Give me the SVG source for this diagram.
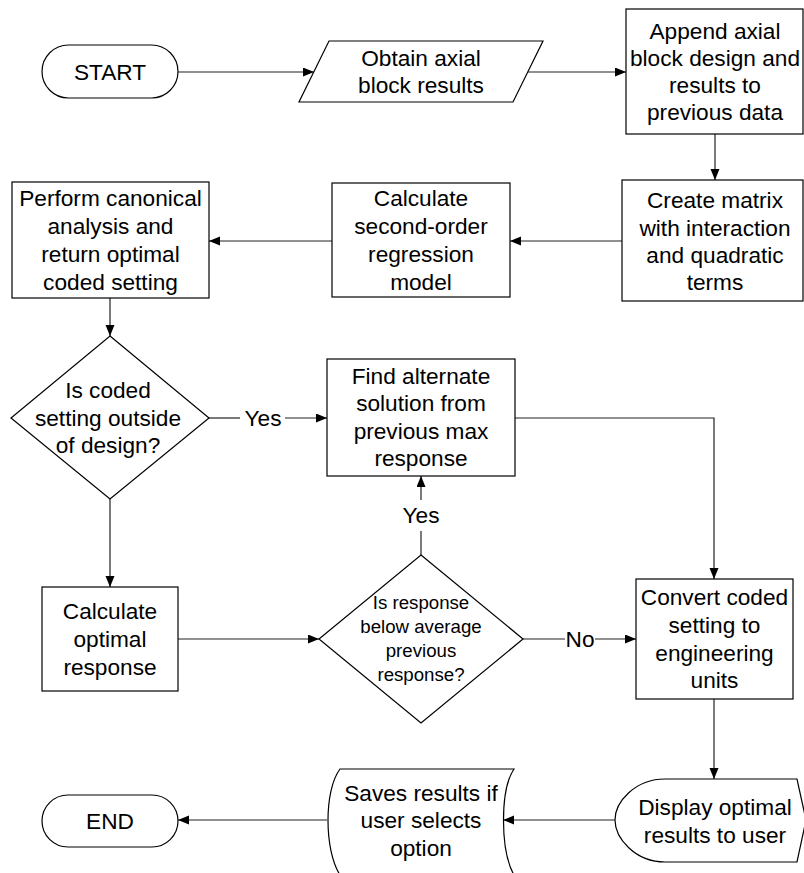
<svg xmlns="http://www.w3.org/2000/svg" width="804" height="873" viewBox="0 0 804 873">
<style>
.s{fill:#fff;stroke:#000;stroke-width:1.2}
.t{font-family:"Liberation Sans",Arial,sans-serif;font-size:22.67px;fill:#000;text-anchor:middle}
.sm{font-size:18.67px}
.c{fill:none;stroke:#222;stroke-width:1.2}
</style>
<defs>
<marker id="a" markerUnits="userSpaceOnUse" markerWidth="12" markerHeight="10" refX="11" refY="4.5" orient="auto">
<path d="M0,0 L11,4.5 L0,9 z" fill="#000"/>
</marker>
</defs>
<rect width="804" height="873" fill="#fff"/>
<g id="connectors">
<path class="c" d="M178,72 H314" marker-end="url(#a)"/>
<path class="c" d="M528,72 H626" marker-end="url(#a)"/>
<path class="c" d="M715,134 V180" marker-end="url(#a)"/>
<path class="c" d="M622,241 H510" marker-end="url(#a)"/>
<path class="c" d="M332,241 H209" marker-end="url(#a)"/>
<path class="c" d="M110,298 V336" marker-end="url(#a)"/>
<path class="c" d="M209,418 H240"/>
<path class="c" d="M285,418 H327" marker-end="url(#a)"/>
<text class="t" x="263" y="426">Yes</text>
<path class="c" d="M515,418 H714 V579" marker-end="url(#a)"/>
<path class="c" d="M110,499 V587" marker-end="url(#a)"/>
<path class="c" d="M178,639 H319" marker-end="url(#a)"/>
<path class="c" d="M421,555 V531"/>
<path class="c" d="M421,500 V476" marker-end="url(#a)"/>
<text class="t" x="421" y="523">Yes</text>
<path class="c" d="M523,639 H565"/>
<path class="c" d="M595,639 H636" marker-end="url(#a)"/>
<text class="t" x="580" y="647">No</text>
<path class="c" d="M714,699 V779" marker-end="url(#a)"/>
<path class="c" d="M615,820 H503" marker-end="url(#a)"/>
<path class="c" d="M327,820 H178" marker-end="url(#a)"/>
</g>
<g id="start">
<rect class="s" x="42" y="45" width="136" height="53" rx="26.5"/>
<text class="t" x="110" y="80">START</text>
</g>
<g id="obtain">
<polygon class="s" points="329,41 543,41 513,102 299,102"/>
<text class="t" x="421" y="66">Obtain axial</text>
<text class="t" x="421" y="93">block results</text>
</g>
<g id="append">
<rect class="s" x="626" y="9" width="177" height="125"/>
<text class="t" x="715" y="39">Append axial</text>
<text class="t" x="715" y="66">block design and</text>
<text class="t" x="715" y="93">results to</text>
<text class="t" x="715" y="120">previous data</text>
</g>
<g id="create">
<rect class="s" x="622" y="180" width="181" height="121"/>
<text class="t" x="715" y="208">Create matrix</text>
<text class="t" x="715" y="236">with interaction</text>
<text class="t" x="715" y="263">and quadratic</text>
<text class="t" x="715" y="290">terms</text>
</g>
<g id="regression">
<rect class="s" x="332" y="183" width="178" height="114"/>
<text class="t" x="421" y="206">Calculate</text>
<text class="t" x="421" y="234">second-order</text>
<text class="t" x="421" y="262">regression</text>
<text class="t" x="421" y="290">model</text>
</g>
<g id="canonical">
<rect class="s" x="12" y="182" width="197" height="116"/>
<text class="t" x="110.5" y="206">Perform canonical</text>
<text class="t" x="110.5" y="234">analysis and</text>
<text class="t" x="110.5" y="262">return optimal</text>
<text class="t" x="110.5" y="290">coded setting</text>
</g>
<g id="decision1">
<polygon class="s" points="110,336 209,418 110,499 11,418"/>
<text class="t" x="108" y="398">Is coded</text>
<text class="t" x="108" y="426">setting outside</text>
<text class="t" x="108" y="453">of design?</text>
</g>
<g id="alternate">
<rect class="s" x="327" y="359" width="188" height="117"/>
<text class="t" x="421" y="384">Find alternate</text>
<text class="t" x="421" y="411">solution from</text>
<text class="t" x="421" y="439">previous max</text>
<text class="t" x="421" y="466">response</text>
</g>
<g id="optimal">
<rect class="s" x="42" y="587" width="136" height="104"/>
<text class="t" x="110" y="619">Calculate</text>
<text class="t" x="110" y="647">optimal</text>
<text class="t" x="110" y="675">response</text>
</g>
<g id="decision2">
<polygon class="s" points="421,555 523,639 421,723 319,639"/>
<text class="t sm" x="421" y="609">Is response</text>
<text class="t sm" x="421" y="633">below average</text>
<text class="t sm" x="421" y="657">previous</text>
<text class="t sm" x="421" y="681">response?</text>
</g>
<g id="convert">
<rect class="s" x="636" y="579" width="157" height="120"/>
<text class="t" x="714.5" y="605">Convert coded</text>
<text class="t" x="714.5" y="633">setting to</text>
<text class="t" x="714.5" y="661">engineering</text>
<text class="t" x="714.5" y="688">units</text>
</g>
<g id="display">
<path class="s" d="M665,779 H797 L806,820 L797,862 H665 C635,862 615,838 615,820 C615,802 635,779 665,779 Z"/>
<text class="t" x="715" y="815">Display optimal</text>
<text class="t" x="715" y="843">results to user</text>
</g>
<g id="saves">
<path class="s" d="M340,769 H514 C500,790 500,850 514,875 H340 C324,850 324,790 340,769 Z"/>
<text class="t" x="421" y="801">Saves results if</text>
<text class="t" x="421" y="828">user selects</text>
<text class="t" x="421" y="856">option</text>
</g>
<g id="end">
<rect class="s" x="42" y="795" width="136" height="52" rx="26"/>
<text class="t" x="110" y="829">END</text>
</g>
</svg>
